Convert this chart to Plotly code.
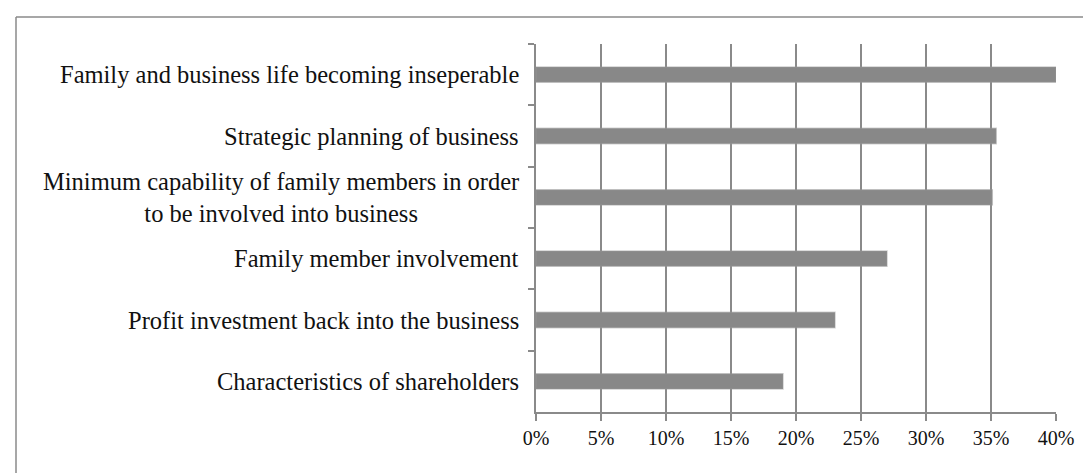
import plotly.graph_objects as go

categories = [
    "Family and business life becoming inseperable",
    "Strategic planning of business",
    "Minimum capability of family members in order<br>to be involved into business",
    "Family member involvement",
    "Profit investment back into the business",
    "Characteristics of shareholders",
]
values = [40.0, 35.4, 35.1, 27.0, 23.0, 19.0]
x_ticks = [0, 5, 10, 15, 20, 25, 30, 35, 40]

GRID = "#8a8a8a"
BAR = "#888888"
FONT = "Liberation Serif, Times New Roman, serif"

fig = go.Figure()
fig.add_trace(go.Bar(
    x=values,
    y=categories,
    orientation="h",
    width=0.25,
    marker=dict(color=BAR, line=dict(color="rgba(150,150,150,0.45)", width=1.5)),
    showlegend=False,
    hoverinfo="x+y",
))

for cat in categories:
    fig.add_annotation(
        x=0, xref="paper", xanchor="right", xshift=-15,
        y=cat, yref="y", yanchor="middle",
        text=cat, showarrow=False, align="center",
        font=dict(family=FONT, size=24.5, color="#111111"),
    )

fig.update_layout(
    width=1091, height=473,
    margin=dict(l=528, r=43, t=36, b=69, pad=0),
    paper_bgcolor="white", plot_bgcolor="white",
    bargap=0.75,
    xaxis=dict(
        range=[0, 40],
        tickvals=x_ticks,
        ticktext=[f"{v}%" for v in x_ticks],
        showgrid=True, gridcolor=GRID, gridwidth=1.5,
        showline=True, linecolor=GRID, linewidth=1.5,
        ticks="outside", ticklen=7, tickcolor=GRID, tickwidth=1.5,
        tickfont=dict(family=FONT, size=20, color="#111111"),
        zeroline=False, fixedrange=True,
    ),
    yaxis=dict(
        categoryorder="array", categoryarray=categories,
        autorange="reversed",
        showticklabels=False,
        tickson="boundaries",
        ticks="outside", ticklen=6, tickcolor=GRID, tickwidth=1.5,
        showline=True, linecolor=GRID, linewidth=1.5,
        showgrid=False, zeroline=False, fixedrange=True,
    ),
    shapes=[
        dict(type="line", xref="paper", yref="paper",
             x0=(8 - 528) / 520, x1=(1100 - 528) / 520,
             y0=1 + (36 - 9) / 368, y1=1 + (36 - 9) / 368,
             line=dict(color=GRID, width=1.5)),
        dict(type="line", xref="paper", yref="paper",
             x0=(8 - 528) / 520, x1=(8 - 528) / 520,
             y0=1 + (36 - 9) / 368, y1=(404 - 490) / 368,
             line=dict(color=GRID, width=1.5)),
    ],
)

fig.write_html("out.html")
